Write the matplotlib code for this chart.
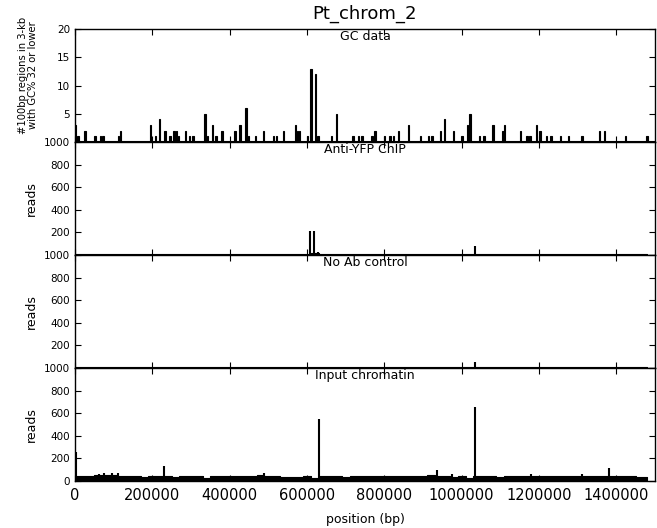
import numpy as np
import matplotlib
matplotlib.use("Agg")
import matplotlib.pyplot as plt

plt.rcParams['font.family'] = ['DejaVu Sans']
plt.rcParams['xtick.direction'] = 'in'
plt.rcParams['ytick.direction'] = 'in'
plt.rcParams['xtick.top'] = True
plt.rcParams['ytick.right'] = True
plt.rcParams['xtick.major.size'] = 4
plt.rcParams['ytick.major.size'] = 4
plt.rcParams['axes.linewidth'] = 1.0

# ---------------- data ----------------
title = "Pt_chrom_2"
panel_titles = ["GC data", "Anti-YFP ChIP", "No Ab control", "Input chromatin"]
gc_ylabel = "#100bp regions in 3-kb\nwith GC% 32 or lower"
reads_label = "reads"
x_label = "position (bp)"

x_ticks = [0, 200000, 400000, 600000, 800000, 1000000, 1200000, 1400000]
x_tick_labels = ["0", "200000", "400000", "600000", "800000", "1000000", "1200000", "1400000"]
gc_yticks = [0, 5, 10, 15, 20]
gc_ytick_labels = ["", "5", "10", "15", "20"]
reads_yticks = [0, 200, 400, 600, 800, 1000]
reads_ytick_labels_upper = ["", "200", "400", "600", "800", "1000"]
reads_ytick_labels_bottom = ["0", "200", "400", "600", "800", "1000"]

# GC panel: window centres (bp) and counts
gc_pos = [2000, 8000, 26000, 52000, 66000, 72000, 113000, 118000, 196000, 208000,
          218000, 233000, 246000, 256000, 262000, 268000, 285000, 296000, 305000, 336000,
          342000, 355000, 365000, 380000, 414000, 427000, 442000, 448000, 466000, 487000,
          513000, 521000, 539000, 570000, 576000, 581000, 601000, 610000, 622000, 628000,
          664000, 677000, 719000, 733000, 742000, 768000, 776000, 800000, 815000, 824000,
          837000, 863000, 893000, 914000, 923000, 945000, 956000, 979000, 1001000, 1015000,
          1022000, 1046000, 1058000, 1081000, 1107000, 1110000, 1152000, 1169000, 1177000, 1193000,
          1203000, 1220000, 1231000, 1255000, 1277000, 1311000, 1356000, 1370000, 1423000, 1479000]
gc_val = [3, 1, 2, 1, 1, 1, 1, 2, 3, 1,
          4, 2, 1, 2, 2, 1, 2, 1, 1, 5,
          1, 3, 1, 2, 2, 3, 6, 1, 1, 2,
          1, 1, 2, 3, 2, 2, 1, 13, 12, 1,
          1, 5, 1, 1, 1, 1, 2, 1, 1, 1,
          2, 3, 1, 1, 1, 2, 4, 2, 1, 3,
          5, 1, 1, 3, 2, 3, 2, 1, 1, 3,
          2, 1, 1, 1, 1, 1, 2, 2, 1, 1]

# background read levels, one value per 20 kb bin starting at 0
bin_pos = np.arange(0, 1500000, 20000)[:75]
chip_base = [10, 9, 10, 11, 10, 9, 9, 10, 9, 8, 9, 10, 9, 9, 10, 10, 9, 8, 9, 9,
             10, 9, 9, 10, 11, 9, 9, 8, 9, 9, 10, 14, 10, 9, 9, 8, 9, 9, 10, 9,
             9, 9, 10, 9, 9, 10, 11, 10, 9, 9, 10, 12, 10, 9, 9, 9, 10, 9, 9, 8,
             9, 9, 10, 9, 9, 9, 10, 9, 9, 9, 10, 9, 9, 8, 9]
noab_base = [6, 6, 7, 7, 6, 6, 6, 6, 6, 5, 6, 6, 6, 6, 6, 6, 6, 5, 6, 6,
             6, 6, 6, 6, 7, 6, 6, 5, 6, 6, 6, 8, 6, 6, 6, 5, 6, 6, 6, 6,
             6, 6, 6, 6, 6, 6, 7, 6, 6, 6, 6, 8, 6, 6, 6, 6, 6, 6, 6, 5,
             6, 6, 6, 6, 6, 6, 6, 6, 6, 6, 6, 6, 6, 5, 6]
input_base = [42, 40, 44, 52, 50, 50, 46, 40, 40, 38, 40, 40, 40, 38, 40, 48, 46, 30, 40, 40,
              40, 44, 40, 44, 54, 40, 40, 38, 38, 38, 40, 26, 42, 40, 40, 38, 40, 40, 42, 40,
              40, 40, 42, 42, 44, 46, 50, 44, 42, 38, 40, 28, 46, 40, 40, 38, 42, 40, 40, 46,
              42, 40, 40, 40, 42, 46, 44, 44, 40, 42, 44, 40, 40, 38, 38]

# sharp peaks (position bp, reads)
chip_peak_pos = [608000, 619000, 629000, 1035000]
chip_peak_val = [212, 210, 25, 80]
noab_peak_pos = [1035000]
noab_peak_val = [56]
input_peak_pos = [1500, 62000, 75000, 95000, 111000, 231000, 490000, 632000,
                  937000, 975000, 1035000, 1180000, 1310000, 1380000]
input_peak_val = [260, 65, 75, 75, 75, 130, 75, 552,
                  100, 65, 655, 60, 60, 118]

# ---------------- figure ----------------
fig = plt.figure(figsize=(6.57, 5.28), dpi=100)
left, right = 75 / 657, 655 / 657
top, bottom = 1 - 29 / 528, 1 - 481 / 528
ph = (top - bottom) / 4
axes = [fig.add_axes([left, top - (i + 1) * ph, right - left, ph]) for i in range(4)]

# GC panel
ax = axes[0]
ax.bar(gc_pos, gc_val, width=3500, color='black', edgecolor='black', linewidth=0.8)
ax.axhline(0, color='black', lw=1.5)
ax.set_ylim(0, 20)
ax.set_yticks(gc_yticks)
ax.set_yticklabels(gc_ytick_labels)
ax.set_ylabel(gc_ylabel, fontsize=7.2, linespacing=1.0)
ax.yaxis.set_label_coords(-0.064, 0.593)

# read panels
series = [(chip_base, chip_peak_pos, chip_peak_val),
          (noab_base, noab_peak_pos, noab_peak_val),
          (input_base, input_peak_pos, input_peak_val)]
for j, (ax, (base, ppos, pval)) in enumerate(zip(axes[1:], series)):
    ax.fill_between(bin_pos, 0, base, step='mid', color='black', lw=0.8)
    ax.vlines(ppos, 0, pval, color='black', lw=1.5)
    ax.set_ylim(0, 1000)
    ax.set_yticks(reads_yticks)
    ax.set_yticklabels(reads_ytick_labels_bottom if j == 2 else reads_ytick_labels_upper)
    ax.set_ylabel(reads_label, fontsize=9)
    ax.yaxis.set_label_coords(-0.064, 0.5)

for i, ax in enumerate(axes):
    ax.set_xlim(0, 1500000)
    ax.set_xticks(x_ticks)
    ax.tick_params(axis='y', labelsize=7.5, pad=3.5, width=0.8, colors='black')
    ax.tick_params(axis='x', labelsize=10.5, pad=5, width=0.8)
    if i < 3:
        ax.set_xticklabels([])
    else:
        ax.set_xticklabels(x_tick_labels)
        ax.set_xlabel(x_label, fontsize=9, labelpad=7)
    ax.text(0.5, 0.995, panel_titles[i], transform=ax.transAxes, ha='center',
            va='top', fontsize=9)

fig.text((left + right) / 2, 1 - 14 / 528, title, ha='center', va='center', fontsize=13)

fig.savefig("out.png", dpi=100, facecolor='white')
